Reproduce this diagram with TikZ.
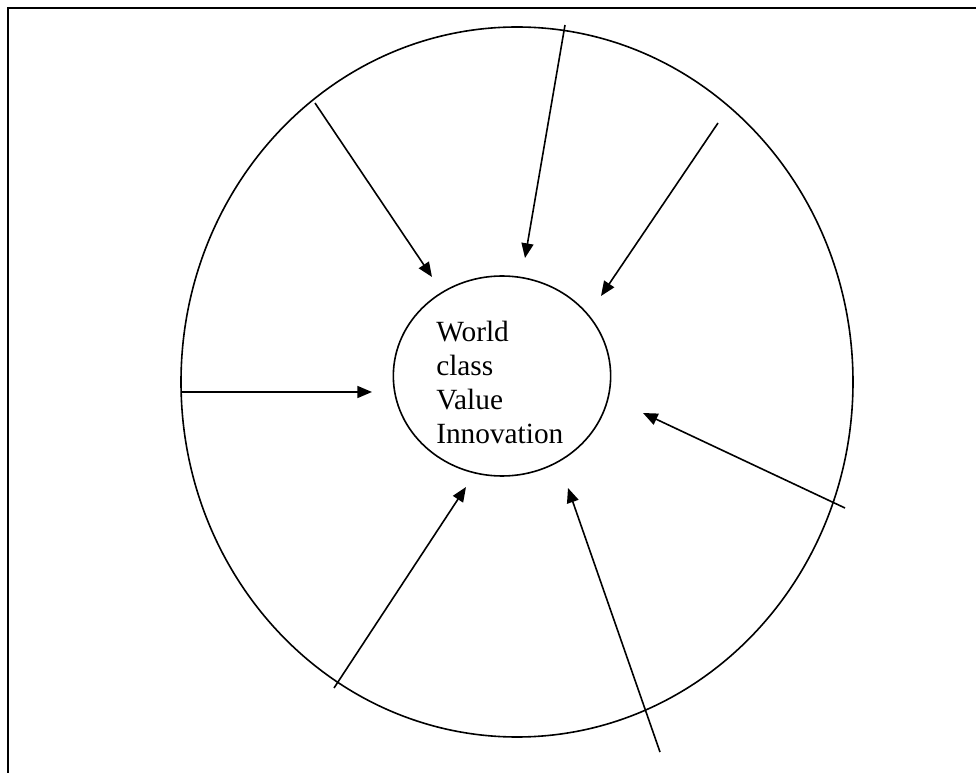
\documentclass[tikz,border=0pt]{standalone}
\usepackage{fontspec}
\setmainfont{Liberation Serif}
\usetikzlibrary{arrows.meta,shapes.geometric}

\tikzset{
  rim/.style={draw, ellipse, line width=1.2pt, inner sep=0pt},
  push/.style={line width=1.2pt, -{Triangle[length=11pt,width=9pt]}},
  corelabel/.style={align=left, font=\fontsize{22}{25.5}\selectfont, inner sep=0pt}
}

\begin{document}
\begin{tikzpicture}[x=0.75pt,y=-0.75pt]
                \useasboundingbox (0,0) rectangle (976,773);

                % Frame, top and left edge only
                \draw [line width=1.4pt] (8,773) -- (8,8) -- (976,8);

                % Outer ring
                \node [rim, minimum width=504pt, minimum height=532.5pt] (outer) at (517,382) {};

                % Core ellipse with its text
                \node [rim, minimum width=163pt, minimum height=150pt] (core) at (502,376) {};
                \node [corelabel, anchor=north west] (coretext) at (436,321) {World\\class\\Value\\Innovation};

                % Start points on or near the outer ring
                \coordinate (s1) at (315,103);
                \coordinate (s2) at (565,25);
                \coordinate (s3) at (718,123);
                \coordinate (s4) at (181,392);
                \coordinate (s5) at (845,508);
                \coordinate (s6) at (334,688);
                \coordinate (s7) at (660,752);

                % Tips just short of the core
                \coordinate (t1) at (432,277);
                \coordinate (t2) at (525,258);
                \coordinate (t3) at (601,296);
                \coordinate (t4) at (372,392);
                \coordinate (t5) at (643,413);
                \coordinate (t6) at (466,487);
                \coordinate (t7) at (568,488);

                % Arrows into the core
                \foreach \i in {1,...,7}
                    \draw [push] (s\i) -- (t\i);
\end{tikzpicture}
\end{document}
